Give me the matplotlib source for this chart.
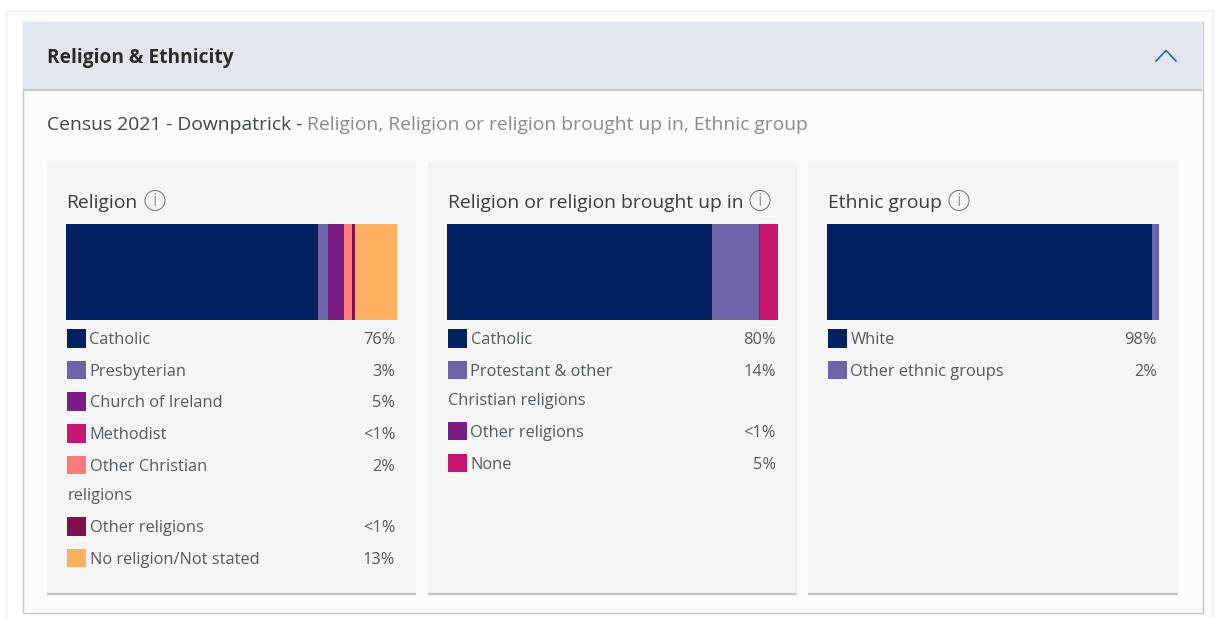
"""Census panel: religion and ethnicity stacked bars with legends."""

import matplotlib.pyplot as plt
from matplotlib.patches import Circle, Rectangle

W, H = 1215, 618

religion_labels = ['Catholic', 'Presbyterian', 'Church of Ireland', 'Methodist',
				   'Other Christian\nreligions', 'Other religions', 'No religion/Not stated']
religion_values = [76.2, 3.0, 4.9, 0.1, 2.4, 0.8, 12.6]
religion_text = ['76%', '3%', '5%', '<1%', '2%', '<1%', '13%']
religion_colors = ['#002060', '#6e62a9', '#7a1d85', '#c8176f', '#ff7b7b', '#7f0f4f', '#ffb05f']

brought_labels = ['Catholic', 'Protestant & other\nChristian religions', 'Other religions', 'None']
brought_values = [80.3, 14.0, 0.3, 5.4]
brought_text = ['80%', '14%', '<1%', '5%']
brought_colors = ['#002060', '#6e62a9', '#7a1d85', '#c8176f']

ethnic_labels = ['White', 'Other ethnic groups']
ethnic_values = [97.9, 2.1]
ethnic_text = ['98%', '2%']
ethnic_colors = ['#002060', '#6e62a9']

plt.rcParams['font.family'] = ['Open Sans', 'DejaVu Sans']

fig = plt.figure(figsize=(W / 100, H / 100), dpi=100, facecolor='white')
bg = fig.add_axes([0, 0, 1, 1])
bg.set_xlim(0, W)
bg.set_ylim(H, 0)
bg.axis('off')


def box(x0, y0, x1, y1, **kw):
	bg.add_patch(Rectangle((x0, y0), x1 - x0, y1 - y0, **kw))


# outer card and header
box(7, 11, 1213, 640, fc='white', ec='#f0f0f0', lw=1.2)
box(22.5, 21.5, 1202.5, 612.5, fc='#fbfbfb', ec='#c6c6c8', lw=1.0)
box(23, 22, 1202, 89, fc='#e3e6ee', ec='none')
bg.plot([23, 1202], [89.5, 89.5], color='#cbcbce', lw=1.6, solid_capstyle='butt')
bg.plot([1156, 1166, 1176], [61, 50.5, 61], color='#2a62c0', lw=1.2)
bg.text(47, 58, 'Religion & Ethnicity', fontsize=13.8, fontweight='bold', color='#2b2b2b', va='center')

sub = bg.text(47, 125.5, 'Census 2021 - Downpatrick - ', fontsize=13.9, color='#404548', va='center')
bg.annotate('Religion, Religion or religion brought up in, Ethnic group', xy=(1, 0.5),
	xycoords=sub, xytext=(0, 0), textcoords='offset points', fontsize=13.9, color='#8b8b8b', va='center')


def panel(x0, x1, title, info_x, labels, values, texts, colors):
	box(x0, 161, x1, 593, fc='#f5f5f5', ec='none')
	bg.plot([x0, x1], [593.5, 593.5], color='#c4c4c4', lw=1.6, solid_capstyle='butt')
	bg.text(x0 + 19.5, 203, title, fontsize=13.9, color='#3c3c3c', va='center')
	bg.add_patch(Circle((info_x, 200.5), 10, fc='none', ec='#7d7d7d', lw=0.8))
	bg.text(info_x, 201, 'i', fontsize=14, color='#7d7d7d', ha='center', va='center', fontweight='light')

	# stacked bar, drawn on its own axes
	bx0, bx1 = x0 + 19, x1 - 19.5
	ax = fig.add_axes([bx0 / W, 1 - 320.3 / H, (bx1 - bx0) / W, 96.3 / H])
	left = 0
	for val, col in zip(values, colors):
		ax.barh(0, val, left=left, height=1, color=col)
		left += val
	ax.set_xlim(0, 100)
	ax.set_ylim(-0.5, 0.5)
	ax.axis('off')

	# legend rows
	y = 338.5
	for lab, txt, col in zip(labels, texts, colors):
		box(x0 + 20, y - 9.5, x0 + 38.5, y + 9, fc=col, ec='none')
		parts = lab.split('\n')
		bg.text(x0 + 42.5, y + 1.5, parts[0], fontsize=11.8, color='#555a5e', va='center')
		bg.text(x1 - 21, y + 1.5, txt, fontsize=11.8, color='#555a5e', va='center', ha='right')
		if len(parts) > 1:
			y += 29.5
			bg.text(x0 + 20.5, y + 1.5, parts[1], fontsize=11.8, color='#555a5e', va='center')
		y += 31.7


panel(47, 416, 'Religion', 155, religion_labels, religion_values, religion_text, religion_colors)
panel(428, 797, 'Religion or religion brought up in', 760, brought_labels, brought_values, brought_text, brought_colors)
panel(808, 1178, 'Ethnic group', 959, ethnic_labels, ethnic_values, ethnic_text, ethnic_colors)

fig.savefig('out.png', dpi=100)
plt.close(fig)
